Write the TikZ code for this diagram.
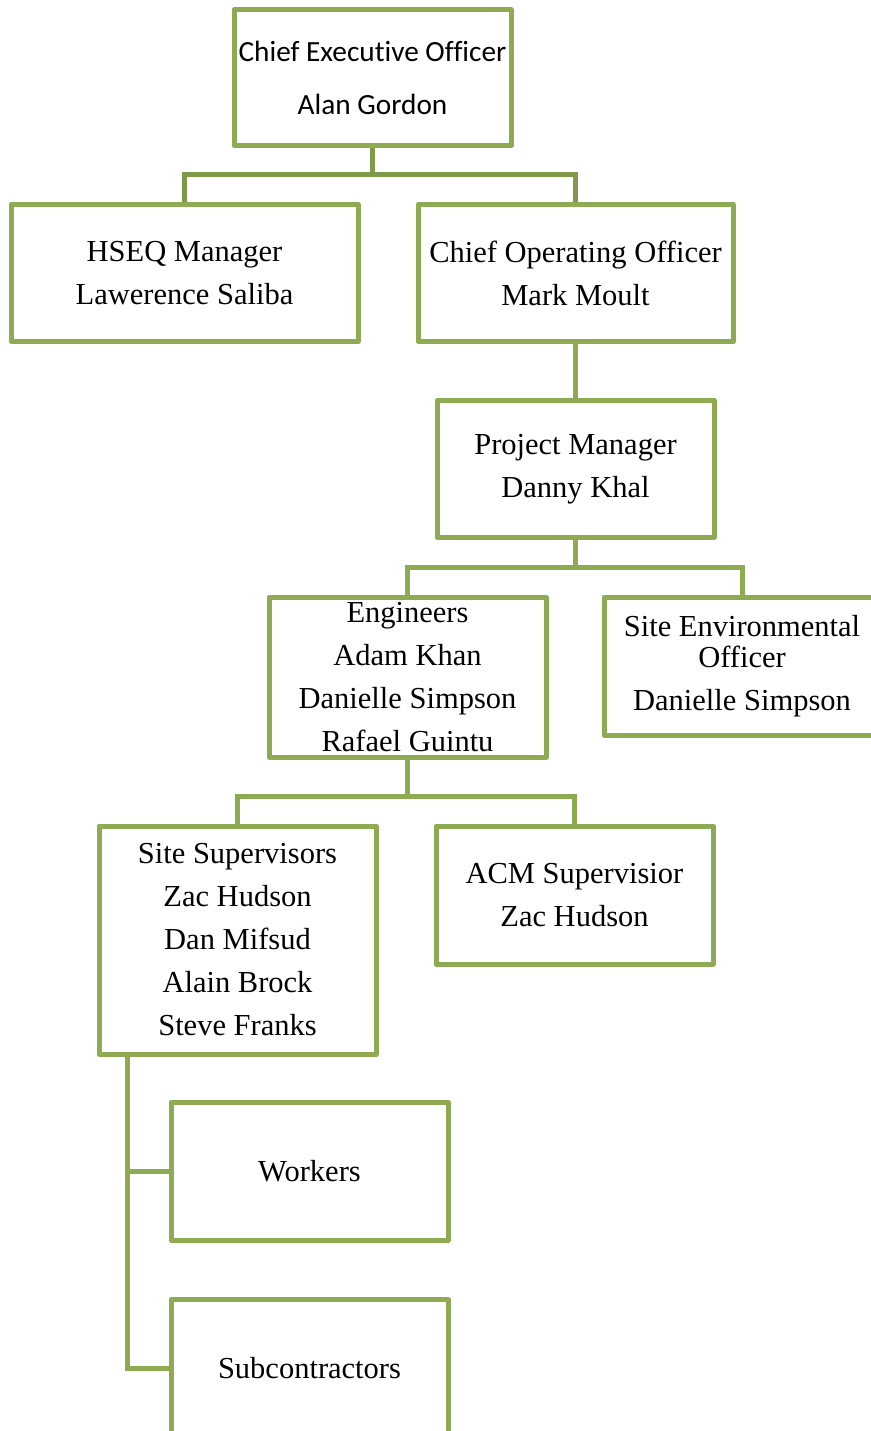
\documentclass[tikz,border=0pt]{standalone}
\usepackage{fontspec}
\setmainfont{Liberation Serif}
\newfontfamily\ceofont[Ligatures=NoCommon]{Carlito}
\definecolor{boxgreen}{HTML}{8EAB54}
\definecolor{topgreen}{HTML}{7F9A49}
\tikzset{
  orgbox/.style={draw=boxgreen,line width=5pt,fill=white,rectangle,line join=round,
    minimum width=277pt,minimum height=137pt,inner sep=0pt,align=center,
    font=\fontsize{30.5}{43}\selectfont},
  link/.style={draw=boxgreen,line width=5pt},
}
\begin{document}
\begin{tikzpicture}[x=1pt,y=-1pt]
      \useasboundingbox (0,0) rectangle (870,1431);
      \node[orgbox,minimum height=136pt,font=\ceofont\fontsize{29.3}{53}\selectfont] (ceo) at (372.5,78) {Chief Executive Officer\\Alan Gordon};
      \node[orgbox,minimum width=347pt] (hseq) at (184.5,273) {HSEQ Manager\\Lawerence Saliba};
      \node[orgbox,minimum width=315pt] (coo) at (575.5,273) {Chief Operating Officer\\Mark Moult};
      \coordinate (ceobus) at (372.5,175);
      \draw[link,draw=topgreen] (ceo.south) -- (ceobus) -| (hseq.north);
      \draw[link,draw=topgreen] (ceobus) -| (coo.north);
      \node[orgbox] (pm) at (575.5,469) {Project Manager\\Danny Khal};
      \draw[link] (coo.south) -- (pm.north);
      \node[orgbox,minimum height=160pt] (eng) at (407.5,677) {Engineers\\Adam Khan\\Danielle Simpson\\Rafael Guintu};
      \node[orgbox,minimum width=276pt,minimum height=138pt] (seo) at (742,666) {Site Environmental\\[-12pt]Officer\\Danielle Simpson};
      \coordinate (pmbus) at (575.5,567);
      \draw[link] (pm.south) -- (pmbus) -| (eng.north);
      \draw[link] (pmbus) -| (seo.north);
      \node[orgbox,minimum height=228pt] (sup) at (237.5,940) {Site Supervisors\\Zac Hudson\\Dan Mifsud\\Alain Brock\\Steve Franks};
      \node[orgbox,minimum height=138pt] (acm) at (574.5,895) {ACM Supervisior\\Zac Hudson};
      \coordinate (engbus) at (407.5,796);
      \draw[link] (eng.south) -- (engbus) -| (sup.north);
      \draw[link] (engbus) -| (acm.north);
      \node[orgbox,minimum height=138pt] (wrk) at (309.5,1171) {Workers};
      \node[orgbox,minimum height=138pt] (sub) at (309.5,1368) {Subcontractors};
      \coordinate (suptrunk) at (127,1054);
      \draw[link] (suptrunk) |- (wrk.west);
      \draw[link] (suptrunk) |- (sub.west);
\end{tikzpicture}
\end{document}
